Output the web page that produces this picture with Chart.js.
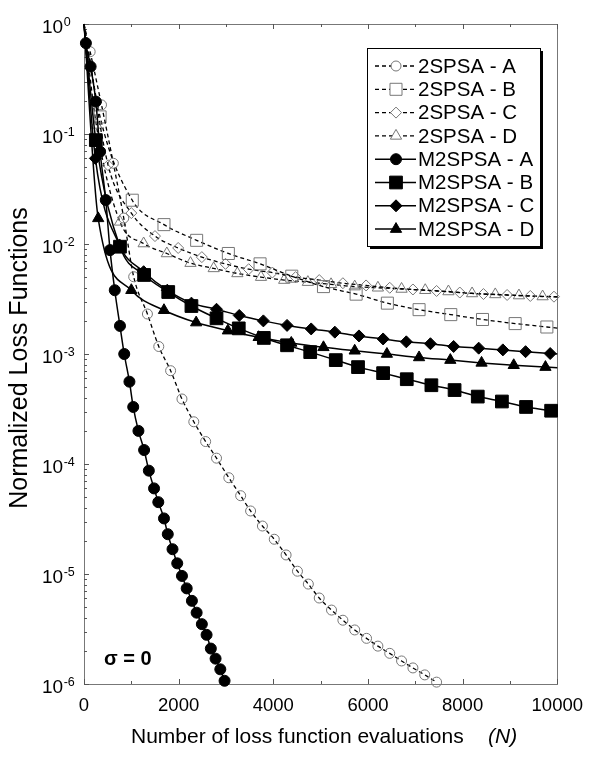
<!DOCTYPE html>
<html><head><meta charset="utf-8">
<script src="https://cdn.jsdelivr.net/npm/chart.js@4.4.0/dist/chart.umd.min.js"></script>
<style>html,body{margin:0;padding:0;background:#fff}#wrap{width:594px;height:762px;position:relative}</style>
</head><body><div id="wrap"><canvas id="c" width="594" height="762"></canvas></div>
<script>
// ---------- data ----------
const xTickValues = [0, 2000, 4000, 6000, 8000, 10000];
const yTickExponents = [0, -1, -2, -3, -4, -5, -6];
const seriesLabels = ['2SPSA - A','2SPSA - B','2SPSA - C','2SPSA - D','M2SPSA - A','M2SPSA - B','M2SPSA - C','M2SPSA - D'];

const n_2SPSA_A = [0,130,370,620,840,1050,1340,1580,1830,2070,2320,2570,2800,3060,3310,3520,3770,4020,4270,4510,4740,4970,5230,5470,5720,5970,6210,6460,6710,6950,7200,7450];
const v_2SPSA_A = [1,0.56,0.184,0.0542,0.0172,0.00504,0.00231,0.00117,7.05e-4,3.9e-4,2.42e-4,1.6e-4,1.13e-4,7.5e-5,5.15e-5,3.74e-5,2.73e-5,2.07e-5,1.49e-5,1.06e-5,8.1e-6,6.05e-6,4.7e-6,3.8e-6,3.1e-6,2.6e-6,2.21e-6,1.9e-6,1.62e-6,1.4e-6,1.21e-6,1.04e-6];

const n_2SPSA_B = [0,340,1020,1690,2380,3050,3720,4390,5060,5750,6410,7080,7750,8420,9110,9780,10000];
const v_2SPSA_B = [1,0.143,0.025,0.015,0.0108,0.0082,0.0066,0.0051,0.0041,0.0035,0.0029,0.00253,0.00228,0.00206,0.00189,0.00176,0.00172];

const n_2SPSA_C = [0,510,1000,1500,1990,2490,2990,3480,3980,4470,4970,5470,5960,6460,6950,7450,7940,8440,8940,9430,9930,10000];
const v_2SPSA_C = [1,0.052,0.0191,0.0118,0.0092,0.0076,0.0066,0.0059,0.0055,0.0050,0.0047,0.0044,0.0042,0.0040,0.00386,0.00374,0.00362,0.00351,0.00344,0.00337,0.00332,0.00331];

const n_2SPSA_D = [0,260,760,1260,1750,2250,2740,3240,3740,4230,4730,5220,5720,6210,6710,7210,7700,8200,8690,9190,9690,10000];
const v_2SPSA_D = [1,0.121,0.0159,0.0101,0.0082,0.0067,0.0060,0.0054,0.0050,0.0047,0.0045,0.0043,0.0041,0.0040,0.0039,0.0038,0.0037,0.00355,0.00348,0.0034,0.00333,0.0033];

const n_M2SPSA_A = [0,40,140,250,340,460,550,650,760,850,960,1040,1150,1270,1370,1480,1570,1690,1770,1870,1970,2070,2170,2280,2380,2490,2590,2680,2780,2880,2970];
const v_M2SPSA_A = [1,0.67,0.41,0.197,0.069,0.0251,0.0088,0.0038,0.0018,0.001,5.6e-4,3.3e-4,2.0e-4,1.34e-4,8.7e-5,6.0e-5,4.5e-5,3.2e-5,2.3e-5,1.68e-5,1.25e-5,9.6e-6,7.4e-6,5.7e-6,4.45e-6,3.5e-6,2.8e-6,2.1e-6,1.7e-6,1.36e-6,1.07e-6];

const n_M2SPSA_B = [0,250,760,1270,1780,2270,2800,3270,3800,4290,4780,5320,5790,6320,6820,7340,7830,8320,8830,9340,9870,10000];
const v_M2SPSA_B = [1,0.088,0.00945,0.00523,0.00366,0.00273,0.00211,0.00171,0.0014,0.0012,0.00104,8.8e-4,7.6e-4,6.7e-4,5.9e-4,5.2e-4,4.7e-4,4.1e-4,3.7e-4,3.3e-4,3.05e-4,2.98e-4];

const n_M2SPSA_C = [0,240,750,1260,1760,2270,2800,3280,3790,4290,4800,5300,5810,6320,6810,7320,7810,8340,8850,9330,9850,10000];
const v_M2SPSA_C = [1,0.06,0.0098,0.0056,0.0038,0.0029,0.00255,0.00224,0.0020,0.00182,0.00169,0.00158,0.00146,0.00137,0.00129,0.00124,0.00117,0.00113,0.00109,0.00105,0.00101,0.001];

const n_M2SPSA_D = [0,300,1000,1690,2370,3040,3690,4380,5060,5720,6400,7080,7740,8400,9080,9750,10000];
const v_M2SPSA_D = [1,0.0171,0.0038,0.0025,0.00193,0.00163,0.00142,0.00126,0.00115,0.00107,0.0010,9.3e-4,8.8e-4,8.3e-4,7.9e-4,7.6e-4,7.5e-4];

const seriesN = [n_2SPSA_A,n_2SPSA_B,n_2SPSA_C,n_2SPSA_D,n_M2SPSA_A,n_M2SPSA_B,n_M2SPSA_C,n_M2SPSA_D];
const seriesV = [v_2SPSA_A,v_2SPSA_B,v_2SPSA_C,v_2SPSA_D,v_M2SPSA_A,v_M2SPSA_B,v_M2SPSA_C,v_M2SPSA_D];

// ---------- styles ----------
const FONT = '"Liberation Sans", Arial, Helvetica, sans-serif';
const styles = [
  {dash:[4,3], ps:'circle',   r:5,   open:true},
  {dash:[4,3], ps:'rect',     r:8.5, open:true},
  {dash:[4,3], ps:'rectRot',  r:5.5, open:true},
  {dash:[4,3], ps:'triangle', r:6.5, open:true},
  {dash:[],    ps:'circle',   r:5.5, open:false},
  {dash:[],    ps:'rect',     r:9,   open:false},
  {dash:[],    ps:'rectRot',  r:6,   open:false},
  {dash:[],    ps:'triangle', r:6.5, open:false}
];

const datasets = seriesLabels.map((lab, i) => {
  const st = styles[i];
  const rad = (c) => { const p = c.raw; return (p && (p.x === 0 || p.x === 10000)) ? 0 : st.r; };
  return {
    label: lab,
    data: seriesN[i].map((n, k) => ({x: n, y: seriesV[i][k]})),
    borderColor: '#000',
    borderWidth: st.open ? 1.3 : 1.5,
    borderDash: st.dash,
    pointStyle: st.ps,
    pointRadius: rad,
    pointHoverRadius: rad,
    pointBorderWidth: 1,
    pointBorderColor: st.open ? '#777' : '#000',
    pointBackgroundColor: st.open ? 'rgba(255,255,255,0)' : '#000',
    cubicInterpolationMode: 'monotone',
    fill: false,
    clip: false,
    order: st.open ? 1 : 0
  };
});

const deco = {
  id: 'deco',
  beforeDatasetsDraw(chart) {
    const {ctx, chartArea: a} = chart;
    const xs = chart.scales.x, ys = chart.scales.y;
    ctx.save();
    ctx.strokeStyle = '#777'; ctx.lineWidth = 1;
    ctx.strokeRect(Math.round(a.left) + 0.5, Math.round(a.top) + 0.5, Math.round(a.right - a.left), Math.round(a.bottom - a.top));
    ctx.strokeStyle = '#555';
    yTickExponents.forEach(e => {
      const base = Math.pow(10, e);
      const py = Math.round(ys.getPixelForValue(base)) + 0.5;
      ctx.beginPath(); ctx.moveTo(a.left, py); ctx.lineTo(a.left + 5, py); ctx.stroke();
      if (e < 0) {
        for (let m = 2; m <= 9; m++) {
          const q = Math.round(ys.getPixelForValue(base * m)) + 0.5;
          ctx.beginPath(); ctx.moveTo(a.left, q); ctx.lineTo(a.left + 3, q); ctx.stroke();
        }
      }
    });
    xTickValues.forEach((v, i) => {
      const px = Math.round(xs.getPixelForValue(v)) + 0.5;
      ctx.beginPath(); ctx.moveTo(px, a.bottom); ctx.lineTo(px, a.bottom - 5); ctx.stroke();
      if (i < xTickValues.length - 1) {
        const mx = Math.round(xs.getPixelForValue((v + xTickValues[i + 1]) / 2)) + 0.5;
        ctx.beginPath(); ctx.moveTo(mx, a.bottom); ctx.lineTo(mx, a.bottom - 3); ctx.stroke();
        ctx.beginPath(); ctx.moveTo(mx, a.top); ctx.lineTo(mx, a.top + 3); ctx.stroke();
      }
      ctx.beginPath(); ctx.moveTo(px, a.top); ctx.lineTo(px, a.top + 5); ctx.stroke();
    });
    ctx.restore();
  },
  afterDraw(chart) {
    const {ctx} = chart;
    const ys = chart.scales.y;
    ctx.save();
    ctx.fillStyle = '#000';
    yTickExponents.forEach(e => {
      const py = ys.getPixelForValue(Math.pow(10, e));
      ctx.textAlign = 'left'; ctx.textBaseline = 'alphabetic';
      ctx.font = `19px ${FONT}`;
      ctx.fillText('10', 42, py + 9);
      const w = ctx.measureText('10').width;
      ctx.font = `12.5px ${FONT}`;
      ctx.fillText(String(e), 42 + w + 0.5, py + 1.5);
    });
    ctx.font = `21px ${FONT}`;
    ctx.fillText('Number of loss function evaluations', 131, 743);
    ctx.font = `italic 21px ${FONT}`;
    ctx.fillText('(N)', 488, 743);
    ctx.save();
    ctx.translate(20, 358); ctx.rotate(-Math.PI / 2);
    ctx.textAlign = 'center'; ctx.textBaseline = 'middle';
    ctx.font = `25px ${FONT}`;
    ctx.fillText('Normalized Loss Functions', 0, 0);
    ctx.restore();
    ctx.font = `bold 20px ${FONT}`;
    ctx.textAlign = 'left';
    ctx.fillText('\u03C3 = 0', 104, 665);
    // legend
    const bx = 367, by = 48, bw = 173, bh = 198;
    ctx.fillStyle = '#000';
    ctx.fillRect(bx + 3, by + 3, bw, bh);
    ctx.fillStyle = '#fff';
    ctx.fillRect(bx, by, bw, bh);
    ctx.strokeStyle = '#000'; ctx.lineWidth = 1;
    ctx.strokeRect(bx + 0.5, by + 0.5, bw, bh);
    seriesLabels.forEach((lab, i) => {
      const st = styles[i];
      const y = by + 18 + i * 23.3;
      ctx.save();
      ctx.strokeStyle = '#000';
      ctx.lineWidth = st.open ? 1.3 : 1.5;
      ctx.setLineDash(st.dash);
      ctx.beginPath(); ctx.moveTo(375, y); ctx.lineTo(416, y); ctx.stroke();
      ctx.setLineDash([]);
      ctx.lineWidth = 1;
      ctx.strokeStyle = st.open ? '#777' : '#000';
      ctx.fillStyle = st.open ? '#fff' : '#000';
      Chart.helpers.drawPoint(ctx, {pointStyle: st.ps, radius: st.r, rotation: 0, borderWidth: 1}, 396, y);
      ctx.restore();
      ctx.fillStyle = '#000';
      ctx.font = `20.5px ${FONT}`;
      ctx.textAlign = 'left'; ctx.textBaseline = 'middle';
      ctx.fillText(lab, 418, y + 1);
    });
    ctx.restore();
  }
};

new Chart(document.getElementById('c'), {
  type: 'line',
  data: {datasets},
  options: {
    responsive: false,
    animation: false,
    devicePixelRatio: 1,
    events: [],
    layout: {padding: {top: 24, right: 35, bottom: 0, left: 0}},
    plugins: {legend: {display: false}, tooltip: {enabled: false}},
    scales: {
      x: {
        type: 'linear', min: 0, max: 10000,
        afterBuildTicks: (s) => { s.ticks = xTickValues.map(v => ({value: v})); },
        ticks: {color: '#000', font: {family: FONT, size: 18.5}, padding: 11, maxRotation: 0,
                callback: (v) => String(v)},
        grid: {display: false, drawTicks: false},
        border: {display: false},
        afterFit: (s) => { s.height = 78; }
      },
      y: {
        type: 'logarithmic', min: 1e-6, max: 1,
        ticks: {display: false},
        grid: {display: false, drawTicks: false},
        border: {display: false},
        afterFit: (s) => { s.width = 84; }
      }
    }
  },
  plugins: [deco]
});
</script>
</body></html>
